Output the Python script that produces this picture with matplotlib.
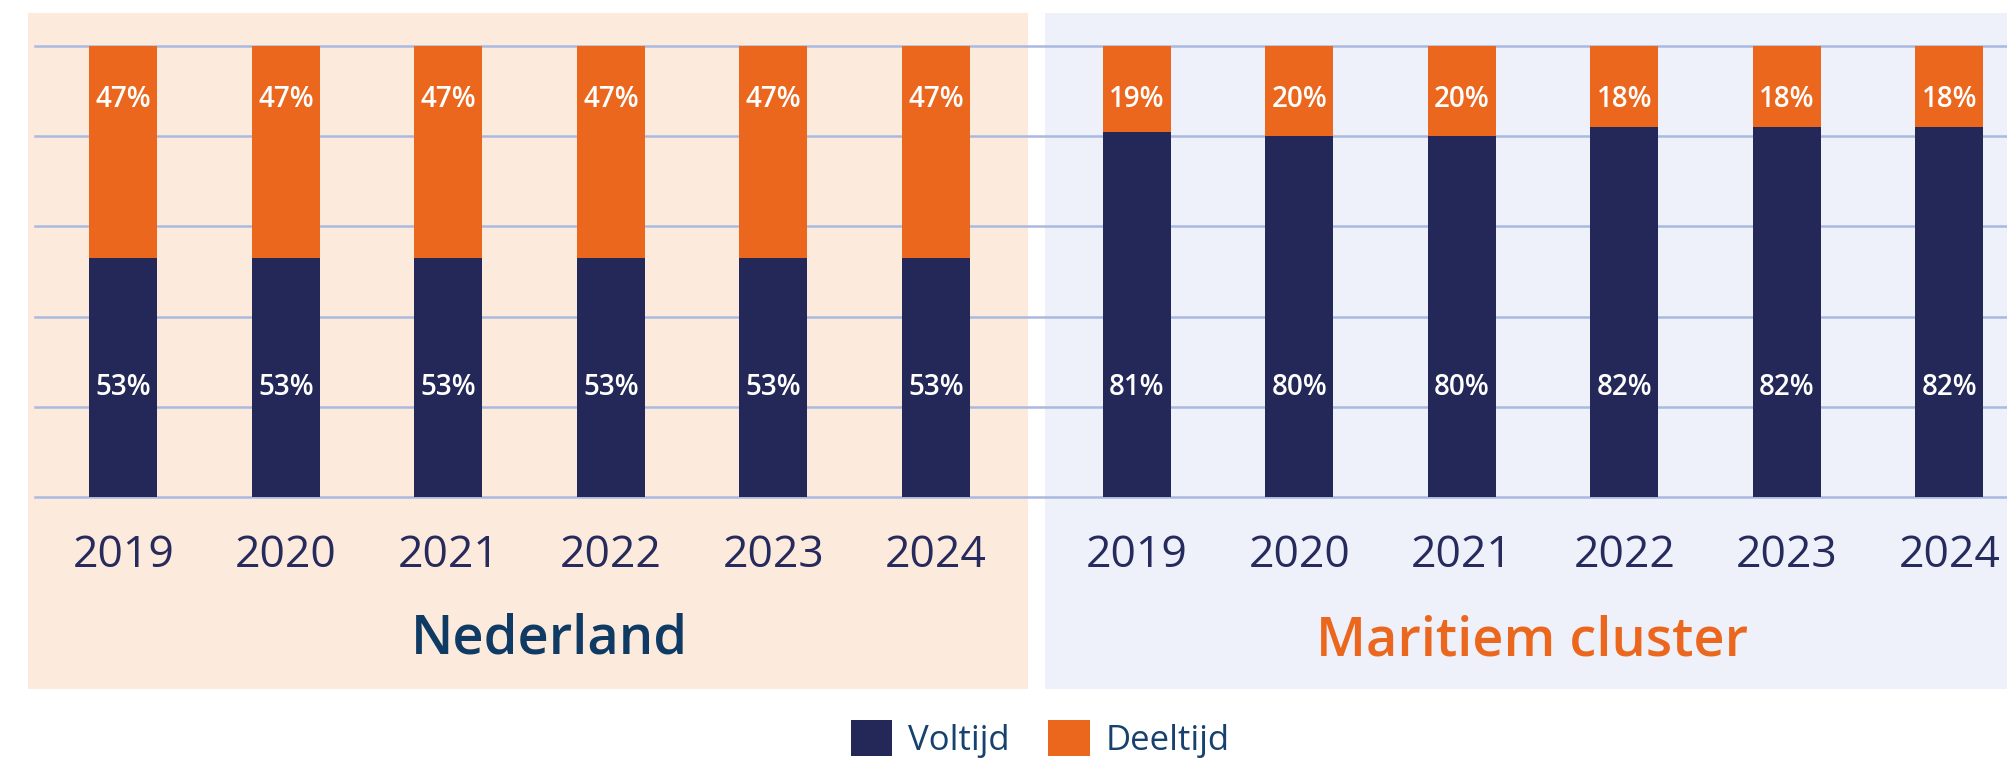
import numpy as np
import matplotlib
matplotlib.use("Agg")
import matplotlib.pyplot as plt
from matplotlib.patches import Rectangle

# ---- data ----
years = ["2019", "2020", "2021", "2022", "2023", "2024"]
nl_voltijd = [53, 53, 53, 53, 53, 53]
nl_deeltijd = [47, 47, 47, 47, 47, 47]
mc_voltijd = [81, 80, 80, 82, 82, 82]
mc_deeltijd = [19, 20, 20, 18, 18, 18]
group_titles = ["Nederland", "Maritiem cluster"]
series_names = ["Voltijd", "Deeltijd"]

# ---- style ----
NAVY = "#242858"
ORANGE = "#EB671E"
BG_NL = "#FCEADC"
BG_MC = "#EEF1FA"
GRID = "#A9B9E0"
YEAR_COL = "#262A5C"
TITLE_NL = "#0E3A63"
LEGEND_COL = "#17426D"

plt.rcParams['font.family'] = ['Open Sans', 'DejaVu Sans']

W, H = 2008, 758
fig = plt.figure(figsize=(W / 100, H / 100), dpi=100)


def fx(px):
    return px / W


def fy(py):
    return 1 - py / H


# background panels (pixel coordinates of the layout, not data)
fig.patches.append(Rectangle((fx(28), fy(689)), fx(1028) - fx(28), fy(13) - fy(689),
                             transform=fig.transFigure, facecolor=BG_NL, edgecolor='none', zorder=-5))
fig.patches.append(Rectangle((fx(1045), fy(689)), fx(2008) - fx(1045), fy(13) - fy(689),
                             transform=fig.transFigure, facecolor=BG_MC, edgecolor='none', zorder=-5))

# axes spanning both panels
ax_left, ax_right = 35, 2008
ax_top, ax_bottom = 46, 497
ax = fig.add_axes([fx(ax_left), fy(ax_bottom), fx(ax_right) - fx(ax_left), fy(ax_top) - fy(ax_bottom)])
ax.set_zorder(2)
ax.set_facecolor('none')
ax.patch.set_alpha(0)

step = 162.5
gap = 201 / step
pos_nl = np.arange(len(years), dtype=float)
pos_mc = pos_nl[-1] + gap + np.arange(len(years))
x0 = (ax_left - 123.4) / step
x1 = (ax_right - 123.4) / step
ax.set_xlim(x0, x1)
ax.set_ylim(0, 100)

bw = 68 / step
b1 = ax.bar(pos_nl, nl_voltijd, width=bw, color=NAVY, label=series_names[0])
b2 = ax.bar(pos_nl, nl_deeltijd, width=bw, bottom=nl_voltijd, color=ORANGE, label=series_names[1])
ax.bar(pos_mc, mc_voltijd, width=bw, color=NAVY)
ax.bar(pos_mc, mc_deeltijd, width=bw, bottom=mc_voltijd, color=ORANGE)

ax.set_yticks(np.arange(0, 101, 20))
ax.yaxis.grid(True, color=GRID, linewidth=1.8)
ax.set_axisbelow(True)
ax.tick_params(left=False, bottom=False, labelleft=False, labelbottom=False)
for s in ax.spines.values():
    s.set_visible(False)
ax.set_xticks([])
for gl in ax.get_ygridlines():
    gl.set_clip_on(False)

# value labels
for pos, vt, dt in [(pos_nl, nl_voltijd, nl_deeltijd), (pos_mc, mc_voltijd, mc_deeltijd)]:
    for x, v, d in zip(pos, vt, dt):
        ax.text(x, 24.3, f"{v}%", ha='center', va='center', color='white',
                fontsize=20, fontweight='semibold')
        ax.text(x, 100 - 11.8, f"{d}%", ha='center', va='center', color='white',
                fontsize=20, fontweight='semibold')

# year labels
trans = matplotlib.transforms.blended_transform_factory(ax.transData, fig.transFigure)
for pos in (pos_nl, pos_mc):
    for x, yr in zip(pos, years):
        ax.text(x, fy(567), yr, transform=trans, ha='center', va='baseline',
                fontsize=32, color=YEAR_COL, clip_on=False)

# group titles
fig.text(fx(549), fy(654), group_titles[0], ha='center', va='baseline',
         fontsize=39, fontweight='semibold', color=TITLE_NL)
fig.text(fx(1532), fy(655), group_titles[1], ha='center', va='baseline',
         fontsize=39, fontweight='semibold', color=ORANGE)

# legend
fig.legend(handles=[b1, b2], labels=series_names, loc='center',
           bbox_to_anchor=(fx(1040), fy(739)), ncol=2, frameon=False,
           fontsize=25, handlelength=1.2, handleheight=1.2, handletextpad=0.45,
           columnspacing=1.1, borderpad=0, labelcolor=LEGEND_COL)

fig.savefig("out.png", dpi=100)
